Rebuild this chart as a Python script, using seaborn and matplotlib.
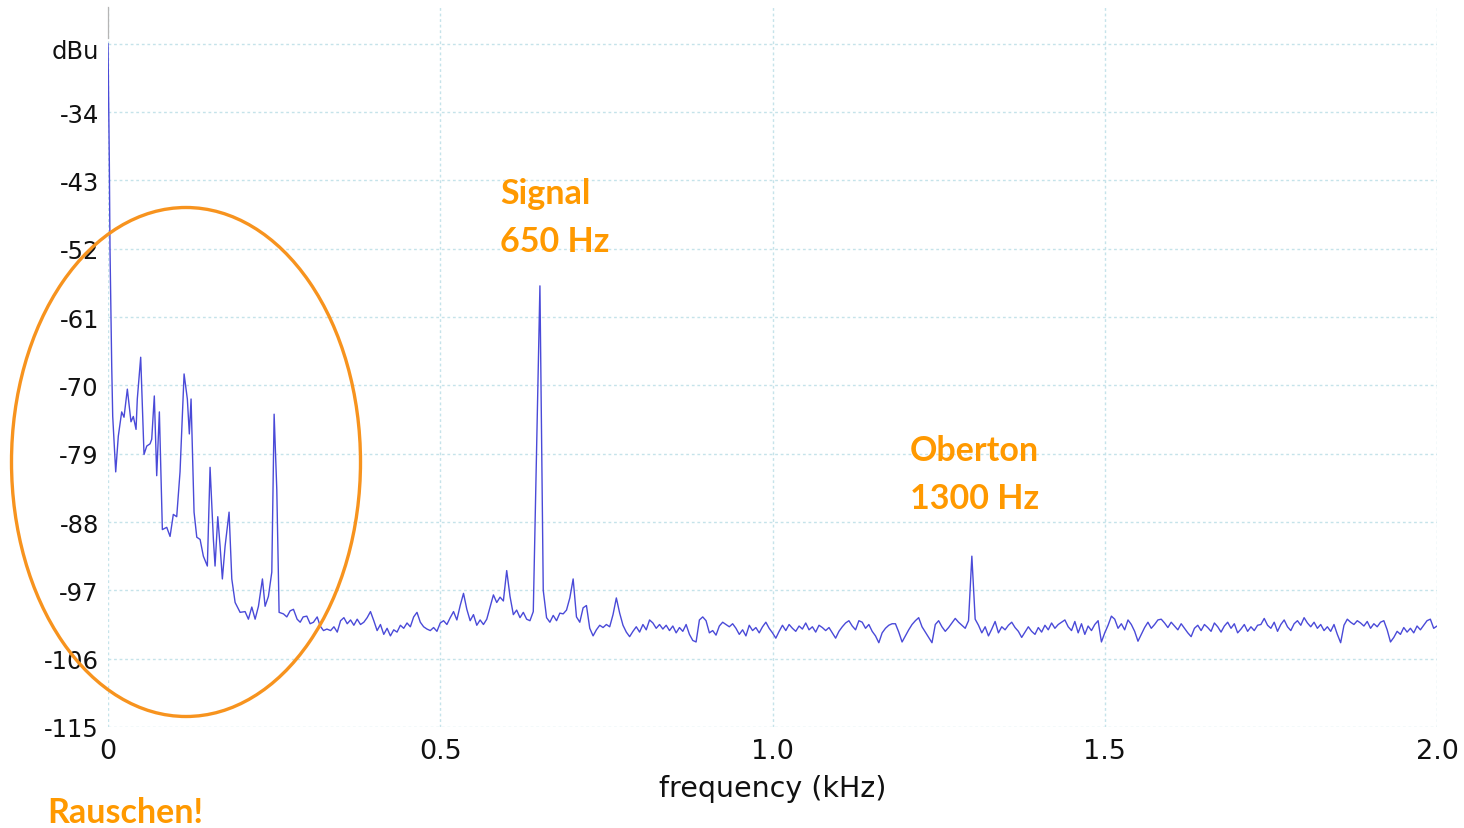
import numpy as np
import pandas as pd
import matplotlib
matplotlib.use("Agg")
import matplotlib.pyplot as plt
from matplotlib.patches import Ellipse
from matplotlib.transforms import ScaledTranslation
import seaborn as sns

# ---------------- data ----------------
# low-frequency region (irregular sample points, kHz / dBu)
low_freq_khz = [0.0, 0.002, 0.003, 0.0056, 0.0071, 0.0116, 0.0155, 0.0206, 0.0241, 0.0291,
                0.0346, 0.0381, 0.0422, 0.0441, 0.0492, 0.0542, 0.0583, 0.0633, 0.0658, 0.0697,
                0.0733, 0.0773, 0.0818, 0.0884, 0.0934, 0.0983, 0.1034, 0.1084, 0.1145, 0.1194,
                0.1224, 0.1250, 0.1295, 0.1336, 0.1386, 0.1435, 0.1495, 0.1536, 0.1586, 0.1611,
                0.1652, 0.1687, 0.1721, 0.1762, 0.1822, 0.1863, 0.1913, 0.1988, 0.2063, 0.2113,
                0.2164, 0.2214, 0.2264, 0.2324, 0.2364, 0.2414, 0.2465, 0.2500, 0.2540, 0.2575,
                0.2640, 0.2691, 0.2741, 0.2791, 0.2846, 0.2892, 0.2937, 0.2992, 0.3042, 0.3092,
                0.3148, 0.3193, 0.3243, 0.3294]
low_level_dbu = [-25.0, -40.6, -52.0, -67.5, -74.1, -81.4, -76.7, -73.5, -74.2, -70.5,
                 -74.8, -74.1, -75.8, -71.8, -66.3, -79.1, -78.0, -77.7, -77.1, -71.4,
                 -81.9, -73.5, -89.0, -88.7, -89.9, -87.0, -87.3, -81.4, -68.5, -71.8,
                 -76.4, -71.8, -86.7, -90.0, -90.3, -92.5, -93.8, -80.8, -90.3, -93.8,
                 -87.3, -91.2, -95.5, -91.2, -86.7, -95.5, -98.6, -99.9, -99.8, -100.8,
                 -99.2, -100.8, -99.1, -95.5, -99.1, -97.8, -94.6, -73.8, -83.7, -99.9,
                 -100.1, -100.5, -99.7, -99.5, -100.8, -101.2, -100.5, -100.4, -101.4, -101.2,
                 -100.5, -101.7, -102.3, -102.1]

# rest of the spectrum, 5 Hz bins from 0.335 kHz to 2.0 kHz
floor_start_khz = 0.335
floor_step_khz = 0.005
floor_level_dbu = [
    -102.3, -101.8, -102.5, -101.0, -100.6, -101.4, -100.9, -101.6, -100.8, -101.5,
    -101.2, -100.6, -99.8, -101.0, -102.3, -101.5, -102.8, -102.0, -103.0, -102.2,
    -102.5, -101.6, -102.0, -101.3, -101.8, -100.5, -99.9, -101.2, -101.8, -102.1,
    -102.3, -101.9, -102.4, -101.3, -101.0, -101.5, -100.6, -99.8, -100.9, -99.0,
    -97.4, -99.5, -101.0, -100.2, -101.6, -100.9, -101.5, -100.8, -99.2, -97.6,
    -98.6, -97.9, -98.4, -94.4, -97.8, -100.2, -99.6, -100.6, -99.9, -100.8,
    -101.0, -99.8, -78.0, -56.9, -97.0, -100.6, -101.2, -100.3, -101.0, -100.0,
    -100.1, -99.6, -98.0, -95.5, -100.5, -101.2, -99.3, -99.0, -102.0, -103.0,
    -102.2, -101.6, -101.9, -101.5, -101.8, -100.2, -98.0, -100.0, -101.6, -102.5,
    -103.1, -102.4, -101.8, -102.5, -101.5, -102.2, -100.9, -101.3, -102.0, -101.5,
    -102.1, -101.6, -102.3, -101.7, -102.6, -101.9, -102.4, -101.5, -102.8, -103.6,
    -103.8, -100.9, -100.5, -101.0, -102.6, -102.3, -102.9, -101.7, -101.2, -101.5,
    -101.8, -101.4, -102.0, -102.8, -102.2, -103.0, -101.6, -102.3, -101.9, -102.6,
    -101.8, -101.2, -102.0, -102.6, -103.3, -102.4, -101.6, -102.3, -101.5, -102.0,
    -102.4, -101.7, -102.1, -101.3, -102.2, -101.8, -102.5, -101.6, -101.9, -102.3,
    -101.9, -102.6, -103.3, -102.4, -101.8, -101.3, -101.0, -101.7, -102.2, -101.0,
    -101.2, -102.0, -101.5, -102.4, -103.0, -103.9, -102.6, -102.0, -101.6, -101.4,
    -101.4, -102.5, -103.8, -103.0, -102.2, -101.5, -101.0, -100.6, -101.8, -102.5,
    -103.2, -103.9, -101.5, -101.0, -101.8, -102.4, -101.9, -101.3, -100.7, -101.2,
    -101.6, -102.0, -101.0, -92.5, -100.8, -101.6, -102.6, -101.8, -103.0, -102.1,
    -101.1, -102.6, -101.8, -102.2, -101.6, -101.2, -101.9, -102.4, -103.2, -102.5,
    -101.8, -102.4, -102.8, -101.9, -102.5, -101.6, -102.2, -101.3, -102.0, -101.5,
    -101.2, -100.9, -101.8, -102.3, -101.1, -102.6, -101.4, -102.8, -101.7, -102.3,
    -101.5, -101.0, -103.8, -102.6, -101.6, -100.4, -100.8, -102.0, -101.4, -102.2,
    -100.9, -101.5, -102.4, -103.7, -102.8, -101.9, -101.2, -102.0, -101.5, -100.9,
    -100.8, -101.3, -101.9, -101.2, -101.7, -102.2, -101.4, -102.0, -102.6, -103.1,
    -102.0, -101.6, -102.3, -101.5, -101.9, -102.4, -101.3, -101.8, -102.5, -101.7,
    -101.2, -102.0, -101.4, -102.6, -102.1, -101.5, -102.4, -101.8, -102.3, -101.6,
    -101.5, -100.7, -101.6, -102.0, -101.2, -102.4, -101.5, -100.9, -101.8, -102.3,
    -101.4, -101.0, -101.6, -100.6, -101.3, -101.8, -101.2, -102.0, -101.5, -102.3,
    -101.8, -102.4, -101.5, -102.8, -103.9, -101.6, -100.8, -101.2, -101.5, -101.0,
    -101.3, -101.7, -101.1, -102.0, -101.4, -101.8, -101.2, -101.0, -102.2, -103.8,
    -103.2, -102.4, -102.8, -101.9, -102.5, -102.0, -102.6, -101.7, -102.2, -101.6,
    -101.0, -100.8, -102.0, -101.7,
]

y_ticks = [-115, -106, -97, -88, -79, -70, -61, -52, -43, -34, -25]
y_ticklabels = ["-115", "-106", "-97", "-88", "-79", "-70", "-61", "-52", "-43", "-34", "dBu"]
x_ticks = [0.0, 0.5, 1.0, 1.5, 2.0]
x_ticklabels = ["0", "0.5", "1.0", "1.5", "2.0"]

signal_label = "Signal\n650 Hz"
overtone_label = "Oberton\n1300 Hz"
noise_label = "Rauschen!"

# ---------------- build frame ----------------
floor_freq = floor_start_khz + floor_step_khz * np.arange(len(floor_level_dbu))
df = pd.DataFrame({
    "freq": np.concatenate([np.array(low_freq_khz), floor_freq]),
    "level": np.concatenate([np.array(low_level_dbu), np.array(floor_level_dbu)]),
})

# ---------------- figure ----------------
sns.set_theme(style="white")
plt.rcParams["font.family"] = ["DejaVu Sans"]

W, H = 1464, 829
fig = plt.figure(figsize=(W / 100, H / 100), dpi=100)
fig.patch.set_facecolor("white")
ax = fig.add_axes([108 / W, 1 - 728 / H, (1437 - 108) / W, (728 - 8) / H])
ax.set_facecolor("white")

grid_color = "#c5e3ea"
for yt in y_ticks:
    ax.axhline(yt, color=grid_color, lw=1.0, ls=(0, (2, 2)), zorder=1)
for xt in x_ticks:
    ax.axvline(xt, color=grid_color, lw=1.0, ls=(0, (2, 2)), zorder=1)

sns.lineplot(data=df, x="freq", y="level", ax=ax, color="#4a4ad8", linewidth=1.0,
             estimator=None, sort=False, zorder=3)

ax.set_xlim(0, 2.0)
ax.set_ylim(-115, -20.17)
ax.set_yticks(y_ticks)
ax.set_yticklabels(y_ticklabels, fontsize=17.5, color="#111111")
ax.set_xticks(x_ticks)
ax.set_xticklabels(x_ticklabels, fontsize=19.5, color="#111111")
ax.tick_params(axis="both", length=0)
ax.tick_params(axis="y", pad=6.5)
ax.tick_params(axis="x", pad=8)
ax.set_xlabel("frequency (kHz)", fontsize=20.5, color="#111111", labelpad=7)
ax.set_ylabel("")

# the unit label sits a little below the top grid line
top_lbl = ax.get_yticklabels()[-1]
top_lbl.set_transform(top_lbl.get_transform() + ScaledTranslation(0, -5 / 100, fig.dpi_scale_trans))

for s in ["top", "right", "bottom"]:
    ax.spines[s].set_visible(False)
ax.spines["left"].set_color("#b5b5b5")
ax.spines["left"].set_linewidth(0.9)
ax.spines["left"].set_bounds(-24.3, -20.17)

# ---------------- annotations ----------------
orange_text = "#ff9900"
fig.text(500 / W, 1 - 178 / H, signal_label, color=orange_text, fontsize=24.5,
         fontweight="bold", family=["Lato", "DejaVu Sans"], ha="left", va="top",
         linespacing=1.6)
fig.text(910 / W, 1 - 435 / H, overtone_label, color=orange_text, fontsize=24.5,
         fontweight="bold", family=["Lato", "DejaVu Sans"], ha="left", va="top",
         linespacing=1.6)
fig.text(47 / W, 1 - 797 / H, noise_label, color=orange_text, fontsize=24.5,
         fontweight="bold", family=["Lato", "DejaVu Sans"], ha="left", va="top")

ell = Ellipse((186 / W, 1 - 463 / H), 349 / W, 509 / H, transform=fig.transFigure,
              fill=False, edgecolor="#f7931e", linewidth=2.4, zorder=10)
fig.add_artist(ell)

fig.savefig("out.png", dpi=100, facecolor="white")
